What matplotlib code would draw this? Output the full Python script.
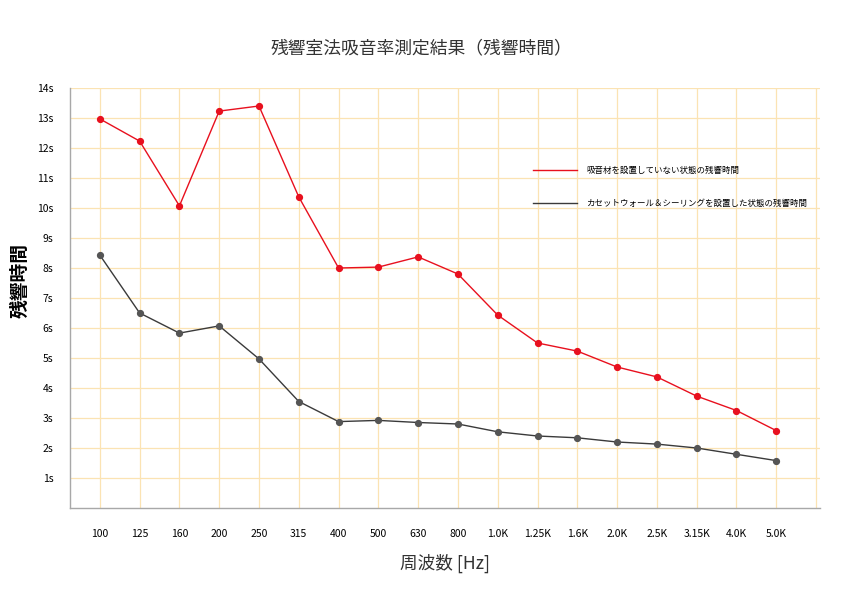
import matplotlib
matplotlib.use("Agg")
import matplotlib.pyplot as plt
import numpy as np

plt.rcParams['font.family'] = ['Noto Sans CJK JP', 'DejaVu Sans']

categories = ["100", "125", "160", "200", "250", "315", "400", "500", "630", "800",
              "1.0K", "1.25K", "1.6K", "2.0K", "2.5K", "3.15K", "4.0K", "5.0K"]
no_absorber = [12.97, 12.23, 10.07, 13.23, 13.4, 10.37, 8.0, 8.03, 8.37, 7.8,
               6.43, 5.5, 5.23, 4.7, 4.37, 3.73, 3.25, 2.58]
with_panels = [8.43, 6.5, 5.83, 6.07, 4.97, 3.55, 2.88, 2.92, 2.85, 2.8,
               2.54, 2.4, 2.34, 2.2, 2.13, 2.0, 1.79, 1.58]
y_ticks = list(range(1, 15))
y_tick_labels = [f"{v}s" for v in y_ticks]
series_labels = ["吸音材を設置していない状態の残響時間",
                 "カセットウォール＆シーリングを設置した状態の残響時間"]

fig = plt.figure(figsize=(8.42, 5.95), dpi=100)
ax = fig.add_axes([70/842, 87/595, 750/842, 420/595])

x = np.arange(len(categories))
grid_color = "#FBE3B3"
for yv in y_ticks:
    ax.axhline(yv, color=grid_color, lw=0.9, zorder=0)
for xv in list(x) + [len(categories)]:
    ax.axvline(xv, color=grid_color, lw=0.9, zorder=0)

ax.plot(x, no_absorber, color="#E8101E", lw=1.0, marker="o", ms=4.2,
        label=series_labels[0], zorder=3)
ax.plot(x, with_panels, color="#3A3A3A", lw=1.0, marker="o", ms=4.2,
        mfc="#555555", mec="#555555", label=series_labels[1], zorder=3)

ax.set_xlim(-0.75, len(categories) + 0.1)
ax.set_ylim(0, 14)
ax.set_xticks(x)
ax.set_xticklabels(categories, fontsize=7.5)
ax.set_yticks(y_ticks)
ax.set_yticklabels(y_tick_labels, fontsize=7.5)
ax.tick_params(axis='both', length=0)
ax.tick_params(axis='x', pad=15)
ax.tick_params(axis='y', pad=12)

for s in ["top", "right"]:
    ax.spines[s].set_visible(False)
for s in ["left", "bottom"]:
    ax.spines[s].set_color("#A8A8A8")
    ax.spines[s].set_linewidth(1.0)

ax.set_xlabel("周波数 [Hz]", fontsize=12.7, labelpad=11, color="#333333")
ax.set_ylabel("残響時間", fontsize=13.5, fontweight="bold")
ax.yaxis.set_label_coords(-40/750, (508-280)/420)
fig.text(0.5, 1 - 48/595, "残響室法吸音率測定結果（残響時間）", ha="center", va="center",
         fontsize=12.8, color="#333333")

leg = ax.legend(loc="upper left", bbox_to_anchor=(455/750, (507-157)/420), frameon=False,
                fontsize=6.1, handlelength=5.2, handletextpad=1.1, labelspacing=2.9)
for h in leg.legend_handles:
    h.set_marker("")

fig.savefig("out.png", dpi=100)
